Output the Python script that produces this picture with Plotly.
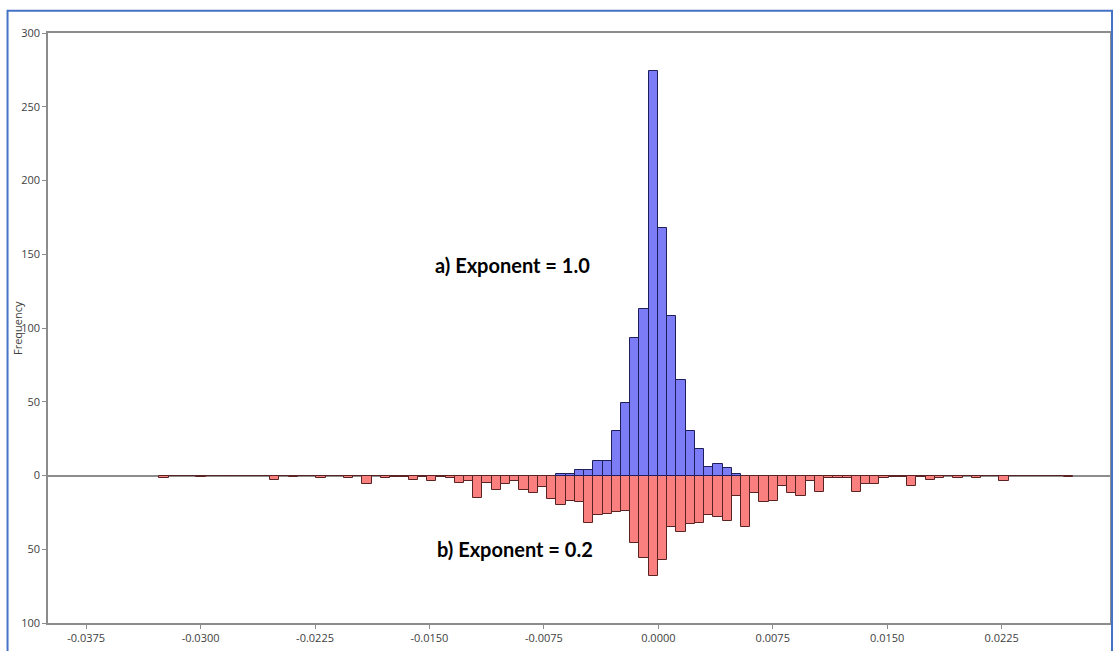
import plotly.graph_objects as go

# ---- data ----
bin_width = 0.000605          # histogram bin width
bin_edge0 = -0.000635         # left edge of bin index 0 (tallest bin)

# Exponent = 0.2 (drawn downward), bins k = -53 .. 45
red_first_bin = -53
red_counts = [
    2, 0, 0, 0, 1, 0, 0, 0, 0, 0,      # k -53 .. -44
    0, 0, 3, 0, 1, 0, 0, 2, 0, 0,      # k -43 .. -34
    2, 0, 6, 0, 2, 1, 1, 3, 1, 4,      # k -33 .. -24
    1, 2, 5, 4, 15, 5, 10, 6, 4, 10,   # k -23 .. -14
    12, 8, 16, 20, 17, 18, 32, 27, 26, 25,  # k -13 .. -4
    24, 46, 56, 68, 57, 35, 38, 33, 32, 27,  # k -3 .. 6
    28, 31, 14, 35, 12, 18, 17, 7, 12, 14,   # k 7 .. 16
    4, 11, 2, 2, 2, 11, 6, 6, 2, 1,          # k 17 .. 26
    1, 7, 1, 3, 2, 0, 2, 0, 2, 0,            # k 27 .. 36
    0, 4, 0, 0, 0, 0, 0, 0, 1,               # k 37 .. 45
]

# Exponent = 1.0 (drawn upward), bins k = -10 .. 9
blue_first_bin = -10
blue_counts = [1, 1, 4, 4, 10, 10, 30, 49, 93, 113,
               274, 168, 108, 65, 30, 18, 6, 8, 5, 1]

x_ticks = [-0.0375, -0.0300, -0.0225, -0.0150, -0.0075, 0.0, 0.0075, 0.0150, 0.0225]
y_ticks = [-100, -50, 0, 50, 100, 150, 200, 250, 300]
y_ticklabels = [str(abs(v)) for v in y_ticks]

y_title = "Frequency"
label_a = "a) Exponent = 1.0"
label_b = "b) Exponent = 0.2"

# ---- derived ----
def centers(first, n):
    return [bin_edge0 + (first + i + 0.5) * bin_width for i in range(n)]

red_x = centers(red_first_bin, len(red_counts))
blue_x = centers(blue_first_bin, len(blue_counts))

fig = go.Figure()
fig.add_trace(go.Bar(
    x=red_x, y=[-c for c in red_counts], width=bin_width,
    marker=dict(color="rgb(250,128,128)", line=dict(color="rgb(90,35,35)", width=1)),
    showlegend=False, hoverinfo="skip"))
fig.add_trace(go.Bar(
    x=blue_x, y=blue_counts, width=bin_width,
    marker=dict(color="rgb(124,124,246)", line=dict(color="rgb(30,30,90)", width=1)),
    showlegend=False, hoverinfo="skip"))

axis_font = dict(family="Open Sans, Noto Sans, sans-serif", size=11, color="#404040")

fig.update_layout(
    width=1114, height=651,
    margin=dict(l=48, r=4, t=33, b=28),
    paper_bgcolor="white", plot_bgcolor="white",
    barmode="overlay", bargap=0,
    xaxis=dict(range=[-0.0400, 0.0296], tickvals=x_ticks,
               ticktext=[f"{v:.4f}" for v in x_ticks],
               showgrid=False, zeroline=False, automargin=False,
               showline=True, mirror=True, linecolor="#8c8c8c", linewidth=1.5,
               ticks="outside", ticklen=4, tickcolor="#8c8c8c",
               tickfont=axis_font),
    yaxis=dict(range=[-100, 300], tickvals=y_ticks, ticktext=y_ticklabels,
               showgrid=False, zeroline=True, zerolinecolor="#8c8c8c", zerolinewidth=1.5,
               showline=True, mirror=True, linecolor="#8c8c8c", linewidth=1.5,
               ticks="outside", ticklen=4, tickcolor="#8c8c8c", automargin=False,
               tickfont=axis_font),
    font=dict(family="Open Sans, sans-serif"),
)

# y-axis title placed as rotated text
fig.add_annotation(x=-0.0292, y=0.5, xref="paper", yref="paper", text=y_title,
                   textangle=-90, showarrow=False, xanchor="center", yanchor="middle",
                   font=axis_font)

fig.add_annotation(x=-0.00955, y=143, xref="x", yref="y", text=f"<b>{label_a}</b>", showarrow=False,
                   font=dict(family="Lato, sans-serif", size=20, color="black"))
fig.add_annotation(x=-0.0094, y=-50, xref="x", yref="y", text=f"<b>{label_b}</b>", showarrow=False,
                   font=dict(family="Lato, sans-serif", size=20, color="black"))

# outer blue frame
fig.add_shape(type="rect", xref="paper", yref="paper",
              x0=-0.0381, x1=1.0019, y0=-0.06, y1=1.0378,
              line=dict(color="#4472C4", width=2), fillcolor="rgba(0,0,0,0)", layer="above")

fig.write_html(
    "out.html",
    config={"displayModeBar": False},
    post_script="document.body.style.margin='0px';document.body.style.overflow='hidden';",
)
